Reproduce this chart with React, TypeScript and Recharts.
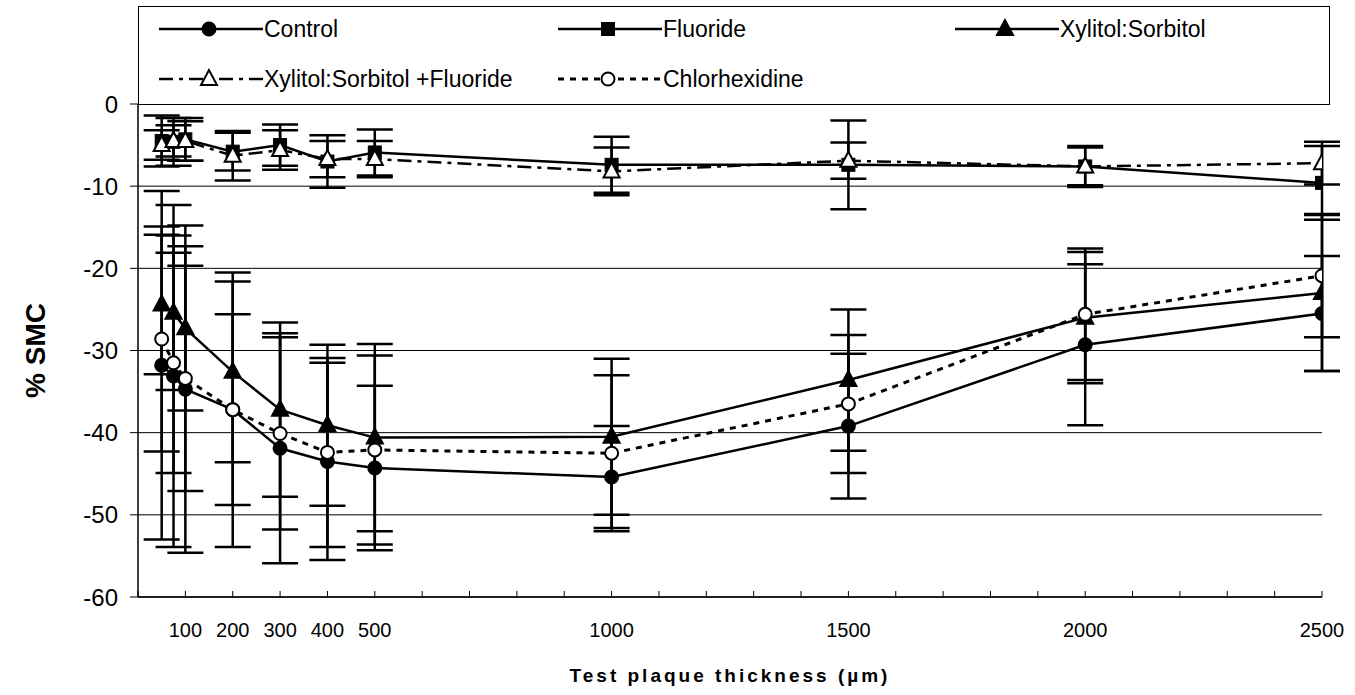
import React from 'react';
import { LineChart, Line, XAxis, YAxis, CartesianGrid, ErrorBar } from 'recharts';

// ---- Data ----
const thickness = [50, 75, 100, 200, 300, 400, 500, 1000, 1500, 2000, 2500];

const control = [-31.8, -33.1, -34.7, -37.2, -41.9, -43.5, -44.3, -45.4, -39.2, -29.3, -25.5];
const controlErr = [21.2, 20.8, 19.9, 16.7, 14.0, 12.0, 10.0, 6.2, 8.8, 9.8, 7.0];

const fluoride = [-4.5, -4.6, -4.3, -5.8, -5.0, -7.0, -5.9, -7.4, -7.4, -7.6, -9.6];
const fluorideErr = [3.1, 2.9, 2.6, 2.3, 2.5, 3.2, 2.8, 3.4, 5.4, 2.3, 4.5];

const xylitol = [-24.4, -25.4, -27.3, -32.6, -37.2, -39.1, -40.6, -40.5, -33.6, -26.0, -23.0];
const xylitolErr = [8.5, 9.4, 10.0, 11.0, 10.6, 9.8, 11.4, 9.5, 8.6, 8.0, 9.5];

const xylitolF = [-5.0, -4.5, -4.5, -6.3, -5.6, -6.7, -6.7, -8.2, -6.9, -7.6, -7.2];
const xylitolFErr = [1.8, 1.9, 2.4, 3.0, 2.4, 2.2, 2.2, 2.9, 2.2, 2.5, 2.6];

const chlorhex = [-28.6, -31.5, -33.4, -37.2, -40.1, -42.4, -42.1, -42.5, -36.5, -25.6, -20.9];
const chlorhexErr = [13.7, 13.4, 13.7, 11.6, 11.7, 11.5, 11.5, 9.5, 8.4, 8.0, 7.5];

const xTicks = [0, 100, 200, 300, 400, 500, 600, 700, 800, 900, 1000, 1100, 1200, 1300, 1400, 1500, 1600, 1700, 1800, 1900, 2000, 2100, 2200, 2300, 2400, 2500];
const xTickLabels = [100, 200, 300, 400, 500, 1000, 1500, 2000, 2500];
const yTicks = [-60, -50, -40, -30, -20, -10, 0];

const seriesNames = ['Control', 'Fluoride', 'Xylitol:Sorbitol', 'Xylitol:Sorbitol +Fluoride', 'Chlorhexidine'];

const FONT = '"Liberation Sans", Arial, Helvetica, sans-serif';

type Kind = 'circle' | 'square' | 'triangle';

const series = [
  { key: 'control', name: seriesNames[0], kind: 'circle' as Kind, filled: true, dash: undefined as string | undefined, width: 2.5 },
  { key: 'fluoride', name: seriesNames[1], kind: 'square' as Kind, filled: true, dash: undefined as string | undefined, width: 2.5 },
  { key: 'xylitol', name: seriesNames[2], kind: 'triangle' as Kind, filled: true, dash: undefined as string | undefined, width: 2.5 },
  { key: 'xylitolF', name: seriesNames[3], kind: 'triangle' as Kind, filled: false, dash: '14 6 4 6', width: 2.5 },
  { key: 'chlorhex', name: seriesNames[4], kind: 'circle' as Kind, filled: false, dash: '6 6', width: 3 },
];

const data = thickness.map((x, i) => ({
  x,
  control: control[i], controlErr: controlErr[i],
  fluoride: fluoride[i], fluorideErr: fluorideErr[i],
  xylitol: xylitol[i], xylitolErr: xylitolErr[i],
  xylitolF: xylitolF[i], xylitolFErr: xylitolFErr[i],
  chlorhex: chlorhex[i], chlorhexErr: chlorhexErr[i],
}));

function Marker({ kind, filled, cx, cy }: { kind: Kind; filled: boolean; cx: number; cy: number }) {
  const fill = filled ? '#000' : '#fff';
  if (kind === 'circle') {
    return <circle cx={cx} cy={cy} r={6.5} fill={fill} stroke="#000" strokeWidth={2} />;
  }
  if (kind === 'square') {
    return <rect x={cx - 6.5} y={cy - 6.5} width={13} height={13} fill={fill} stroke="#000" strokeWidth={1} />;
  }
  return (
    <polygon
      points={`${cx},${cy - 9} ${cx - 8},${cy + 6} ${cx + 8},${cy + 6}`}
      fill={fill}
      stroke="#000"
      strokeWidth={2}
      strokeLinejoin="miter"
    />
  );
}

const XTick = (props: any) => {
  const { x, y, payload } = props;
  const show = xTickLabels.includes(payload.value);
  return (
    <g>
      <line x1={x} x2={x} y1={y} y2={y - 6} stroke="#000" strokeWidth={1} />
      {show && (
        <text x={x} y={y + 40} textAnchor="middle" fontSize={20} fontFamily={FONT} fill="#000">
          {payload.value}
        </text>
      )}
    </g>
  );
};

const YTitle = (props: any) => {
  const vb = props.viewBox;
  const cx = vb.x + 35;
  const cy = vb.y + vb.height / 2;
  return (
    <text
      x={cx}
      y={cy}
      transform={`rotate(-90, ${cx}, ${cy})`}
      textAnchor="middle"
      dominantBaseline="central"
      fontSize={28}
      fontWeight="bold"
      fontFamily={FONT}
      fill="#000"
    >
      % SMC
    </text>
  );
};

const XTitle = (props: any) => {
  const vb = props.viewBox;
  const cx = vb.x + vb.width / 2;
  return (
    <text
      x={cx}
      y={vb.y + 85}
      textAnchor="middle"
      fontSize={19}
      fontWeight="bold"
      fontFamily={FONT}
      letterSpacing={3}
      fill="#000"
    >
      Test plaque thickness (µm)
    </text>
  );
};

const legendCols = [159, 558, 955];
const legendRows = [29, 79];
const legendPlacement = [
  [0, 0],
  [1, 0],
  [2, 0],
  [0, 1],
  [1, 1],
];

function LegendBox() {
  return (
    <>
      <div
        style={{
          position: 'absolute',
          left: 138,
          top: 6,
          width: 1192,
          height: 99,
          border: '1.5px solid #000',
          boxSizing: 'border-box',
          background: '#fff',
        }}
      />
      {series.map((s, i) => {
        const [c, r] = legendPlacement[i];
        return (
          <div
            key={s.key}
            style={{
              position: 'absolute',
              left: legendCols[c],
              top: legendRows[r] - 14,
              height: 28,
              display: 'flex',
              alignItems: 'center',
              whiteSpace: 'nowrap',
            }}
          >
            <svg width={104} height={28} style={{ display: 'block' }}>
              <line x1={0} x2={104} y1={14} y2={14} stroke="#000" strokeWidth={s.width} strokeDasharray={s.dash} />
              <Marker kind={s.kind} filled={s.filled} cx={50} cy={14} />
            </svg>
            <span style={{ fontFamily: FONT, fontSize: 23, color: '#000', marginLeft: 1, lineHeight: '28px' }}>{s.name}</span>
          </div>
        );
      })}
    </>
  );
}

export default function App() {
  return (
    <div style={{ position: 'absolute', left: 0, top: 0, width: 1355, height: 695, background: '#fff' }}>
      <LineChart
        width={1355}
        height={695}
        data={data}
        margin={{ top: 104, right: 33, bottom: 58, left: 0 }}
      >
        <CartesianGrid vertical={false} stroke="#000" strokeWidth={1} />
        <XAxis
          type="number"
          dataKey="x"
          domain={[0, 2500]}
          ticks={xTicks}
          interval={0}
          tick={<XTick />}
          tickLine={false}
          tickSize={0}
          tickMargin={0}
          axisLine={{ stroke: '#000', strokeWidth: 1.5 }}
          height={40}
          allowDataOverflow
          label={XTitle}
        />
        <YAxis
          type="number"
          domain={[-60, 0]}
          ticks={yTicks}
          interval={0}
          width={138}
          tickSize={8}
          tickMargin={12}
          tick={{ fontSize: 24, fill: '#000', fontFamily: FONT }}
          tickLine={{ stroke: '#000' }}
          axisLine={{ stroke: '#000', strokeWidth: 1.5 }}
          allowDataOverflow
          label={YTitle}
        />
        {series.map((s) => (
          <Line
            key={s.key}
            type="linear"
            dataKey={s.key}
            name={s.name}
            stroke="#000"
            strokeWidth={s.width}
            strokeDasharray={s.dash}
            isAnimationActive={false}
            activeDot={false}
            dot={(p: any) => <Marker key={`${s.key}-${p.index}`} kind={s.kind} filled={s.filled} cx={p.cx} cy={p.cy} />}
          >
            <ErrorBar dataKey={`${s.key}Err`} width={18} strokeWidth={2.5} stroke="#000" direction="y" />
          </Line>
        ))}
      </LineChart>
      <LegendBox />
    </div>
  );
}
